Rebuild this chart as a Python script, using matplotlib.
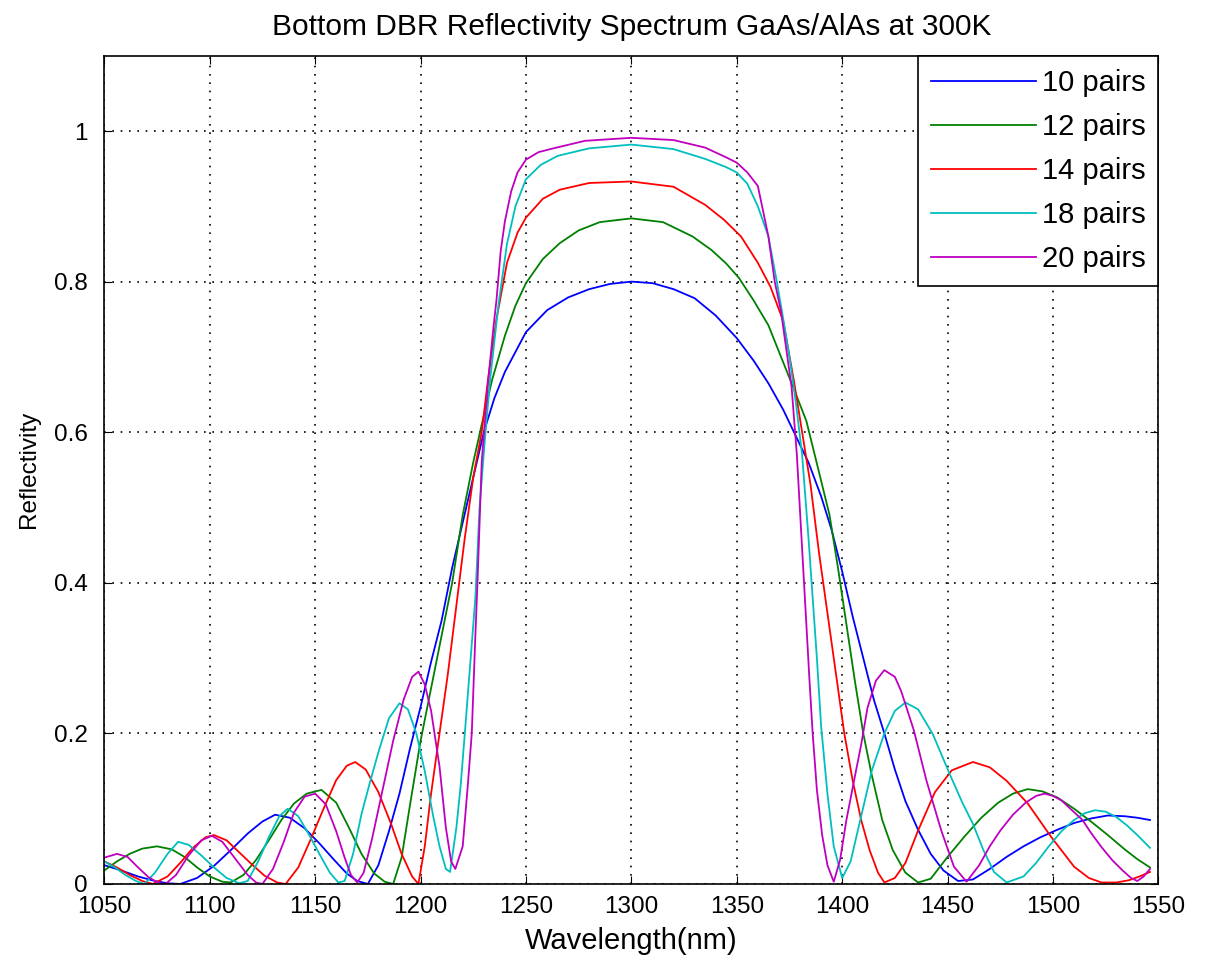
import matplotlib
matplotlib.use("Agg")
import matplotlib.pyplot as plt

plt.rcParams['font.family'] = ['Liberation Sans', 'DejaVu Sans']

# values (wavelength in nm, reflectivity)
wl_10 = [1050, 1058, 1066, 1074, 1080, 1086, 1094, 1102, 1110, 1118, 1125, 1131, 1138, 1145,
         1152, 1159, 1165, 1170, 1175, 1180, 1185, 1190, 1195, 1200, 1205, 1210, 1215, 1220,
         1225, 1230, 1235, 1240, 1250, 1260, 1270, 1280, 1290, 1300, 1310, 1320, 1330, 1340,
         1350, 1358, 1365, 1372, 1378, 1384, 1390, 1395, 1400, 1405, 1410, 1415, 1420, 1425,
         1430, 1436, 1442, 1448, 1455, 1462, 1470, 1478, 1486, 1494, 1502, 1510, 1518, 1526,
         1534, 1540, 1546]
r_10 = [0.025, 0.018, 0.010, 0.004, 0.001, 0.000, 0.008, 0.024, 0.045, 0.067, 0.083, 0.092,
        0.088, 0.074, 0.054, 0.032, 0.014, 0.004, 0.000, 0.025, 0.070, 0.120, 0.180, 0.235,
        0.295, 0.350, 0.420, 0.480, 0.540, 0.600, 0.645, 0.680, 0.733, 0.762, 0.779, 0.790,
        0.797, 0.800, 0.798, 0.790, 0.778, 0.755, 0.725, 0.695, 0.665, 0.630, 0.595, 0.560,
        0.515, 0.470, 0.415, 0.355, 0.300, 0.245, 0.200, 0.152, 0.110, 0.072, 0.040, 0.018,
        0.004, 0.006, 0.020, 0.036, 0.050, 0.062, 0.072, 0.081, 0.087, 0.091, 0.090, 0.088,
        0.085]

wl_12 = [1050, 1056, 1062, 1068, 1075, 1082, 1088, 1094, 1100, 1106, 1110, 1116, 1122, 1128,
         1134, 1140, 1146, 1153, 1160, 1166, 1172, 1178, 1183, 1187, 1191, 1195, 1200, 1205,
         1210, 1215, 1220, 1225, 1229, 1234, 1240, 1245, 1250, 1258, 1266, 1275, 1285, 1300,
         1315, 1329, 1338, 1345, 1351, 1358, 1365, 1371, 1377, 1383, 1389, 1394, 1398, 1402,
         1406, 1410, 1414, 1419, 1424, 1430, 1436, 1442, 1450, 1458, 1466, 1474, 1481, 1488,
         1495, 1502, 1510, 1518, 1526, 1534, 1540, 1546]
r_12 = [0.018, 0.030, 0.040, 0.047, 0.050, 0.046, 0.036, 0.022, 0.010, 0.003, 0.002, 0.012,
        0.032, 0.058, 0.085, 0.107, 0.120, 0.125, 0.108, 0.075, 0.040, 0.014, 0.003, 0.000,
        0.035, 0.105, 0.190, 0.260, 0.330, 0.400, 0.490, 0.560, 0.610, 0.670, 0.728, 0.768,
        0.798, 0.830, 0.851, 0.868, 0.879, 0.884, 0.879, 0.860, 0.842, 0.824, 0.805, 0.775,
        0.742, 0.700, 0.658, 0.615, 0.547, 0.490, 0.420, 0.345, 0.270, 0.200, 0.145, 0.085,
        0.045, 0.015, 0.002, 0.007, 0.036, 0.063, 0.088, 0.108, 0.120, 0.126, 0.123, 0.115,
        0.100, 0.083, 0.065, 0.046, 0.033, 0.022]

wl_14 = [1050, 1056, 1062, 1068, 1073, 1080, 1086, 1092, 1098, 1102, 1108, 1114, 1120, 1126,
         1132, 1136, 1142, 1148, 1154, 1160, 1165, 1169, 1174, 1180, 1186, 1191, 1196, 1199,
         1202, 1205, 1209, 1213, 1217, 1221, 1225, 1229, 1232, 1236, 1241, 1246, 1250, 1258,
         1266, 1280, 1300, 1320, 1335, 1344, 1352, 1360, 1366, 1372, 1377, 1381, 1385, 1389,
         1393, 1397, 1401, 1405, 1409, 1413, 1417, 1420, 1425, 1430, 1436, 1444, 1452, 1462,
         1470, 1478, 1488, 1499, 1510, 1517, 1523, 1530, 1536, 1541, 1546]
r_14 = [0.030, 0.022, 0.012, 0.004, 0.000, 0.010, 0.028, 0.048, 0.062, 0.065, 0.058, 0.042,
        0.026, 0.011, 0.002, 0.000, 0.022, 0.060, 0.100, 0.138, 0.157, 0.162, 0.152, 0.122,
        0.080, 0.040, 0.010, 0.000, 0.050, 0.120, 0.200, 0.280, 0.370, 0.460, 0.540, 0.600,
        0.670, 0.750, 0.825, 0.865, 0.885, 0.910, 0.922, 0.931, 0.933, 0.926, 0.902, 0.882,
        0.860, 0.825, 0.793, 0.748, 0.670, 0.600, 0.530, 0.440, 0.360, 0.280, 0.200, 0.137,
        0.085, 0.045, 0.015, 0.002, 0.008, 0.028, 0.071, 0.122, 0.151, 0.162, 0.155, 0.137,
        0.107, 0.063, 0.023, 0.008, 0.002, 0.002, 0.005, 0.010, 0.016]

wl_18 = [1050, 1055, 1060, 1065, 1069, 1074, 1080, 1085, 1090, 1096, 1102, 1108, 1114, 1118,
         1123, 1128, 1133, 1137, 1142, 1147, 1152, 1157, 1161, 1164, 1168, 1172, 1176, 1180,
         1185, 1190, 1194, 1198, 1202, 1206, 1209, 1212, 1214, 1217, 1219, 1221, 1223.5, 1226,
         1228, 1230.5, 1233, 1237, 1241, 1245, 1250, 1257, 1265, 1280, 1300, 1320, 1335, 1345,
         1350, 1355, 1360, 1365, 1369, 1372, 1375, 1378, 1381, 1384, 1386, 1388, 1390, 1393,
         1396, 1400, 1404, 1409, 1414, 1420, 1425, 1430, 1436, 1443, 1451, 1457, 1462, 1467,
         1472, 1478, 1486, 1492, 1498, 1504, 1510, 1515, 1520, 1525, 1530, 1535, 1540, 1546]
r_18 = [0.030, 0.022, 0.012, 0.004, 0.000, 0.015, 0.040, 0.056, 0.052, 0.038, 0.022, 0.008,
        0.001, 0.004, 0.030, 0.062, 0.090, 0.100, 0.090, 0.066, 0.040, 0.015, 0.002, 0.004,
        0.040, 0.093, 0.135, 0.175, 0.220, 0.240, 0.232, 0.200, 0.150, 0.090, 0.050, 0.020,
        0.016, 0.075, 0.130, 0.200, 0.290, 0.380, 0.500, 0.590, 0.670, 0.770, 0.850, 0.900,
        0.936, 0.955, 0.967, 0.977, 0.982, 0.976, 0.963, 0.952, 0.945, 0.930, 0.900, 0.860,
        0.800, 0.751, 0.700, 0.640, 0.570, 0.460, 0.380, 0.300, 0.210, 0.120, 0.050, 0.008,
        0.030, 0.090, 0.150, 0.200, 0.230, 0.241, 0.232, 0.199, 0.146, 0.108, 0.080, 0.045,
        0.016, 0.002, 0.010, 0.028, 0.050, 0.070, 0.085, 0.094, 0.098, 0.096, 0.089, 0.078,
        0.065, 0.048]

wl_20 = [1050, 1056, 1061, 1066, 1071, 1076, 1079, 1084, 1090, 1096, 1101, 1106, 1112, 1118,
         1122, 1125, 1130, 1135, 1140, 1145, 1150, 1155, 1160, 1164, 1167, 1170, 1173, 1177,
         1182, 1187, 1192, 1196, 1199, 1202, 1205, 1209, 1212, 1214.5, 1216.5, 1220, 1222.5,
         1224.3, 1226, 1227, 1229, 1232, 1234.6, 1236, 1238, 1240, 1243, 1246, 1250, 1256,
         1263, 1278, 1300, 1320, 1335, 1345, 1350, 1355, 1360, 1365, 1368, 1371, 1374, 1376,
         1378.5, 1380.5, 1382.5, 1384.5, 1386, 1388, 1390.5, 1393, 1396, 1399, 1402, 1405.6,
         1409, 1412, 1416, 1420, 1425, 1428, 1434, 1440, 1447, 1453, 1459, 1465, 1470, 1475,
         1481, 1487, 1492, 1496, 1500, 1504, 1509, 1514, 1518, 1523, 1528, 1533, 1537, 1540,
         1543, 1546]
r_20 = [0.035, 0.040, 0.036, 0.022, 0.009, 0.001, 0.000, 0.012, 0.038, 0.058, 0.064, 0.056,
        0.034, 0.012, 0.002, 0.000, 0.020, 0.055, 0.095, 0.116, 0.120, 0.106, 0.070, 0.035,
        0.012, 0.002, 0.015, 0.060, 0.125, 0.190, 0.245, 0.275, 0.282, 0.265, 0.230, 0.156,
        0.075, 0.030, 0.020, 0.050, 0.134, 0.200, 0.330, 0.400, 0.560, 0.666, 0.740, 0.775,
        0.840, 0.880, 0.920, 0.945, 0.962, 0.972, 0.977, 0.987, 0.991, 0.988, 0.978, 0.965,
        0.958, 0.945, 0.927, 0.860, 0.800, 0.760, 0.700, 0.660, 0.570, 0.470, 0.370, 0.270,
        0.200, 0.125, 0.065, 0.025, 0.003, 0.032, 0.085, 0.137, 0.185, 0.234, 0.270, 0.284,
        0.275, 0.256, 0.204, 0.137, 0.071, 0.023, 0.003, 0.025, 0.050, 0.071, 0.092, 0.108,
        0.117, 0.120, 0.117, 0.111, 0.098, 0.085, 0.068, 0.049, 0.032, 0.018, 0.008, 0.004,
        0.010, 0.020]

labels = ['10 pairs', '12 pairs', '14 pairs', '18 pairs', '20 pairs']
colors = ['#0000ff', '#008000', '#ff0000', '#00bfbf', '#bf00bf']

fig = plt.figure(figsize=(12.13, 9.71), dpi=100)
ax = fig.add_axes([0.086, 0.0896, 0.869, 0.853])

series = [(wl_10, r_10), (wl_12, r_12), (wl_14, r_14), (wl_18, r_18), (wl_20, r_20)]
for (x, y), lab, c in zip(series, labels, colors):
    ax.plot(x, y, color=c, lw=1.3, label=lab)

ax.set_xlim(1050, 1550)
ax.set_ylim(0, 1.1)
ax.set_xticks(range(1050, 1551, 50))
ax.set_yticks([0, 0.2, 0.4, 0.6, 0.8, 1.0])
ax.set_yticklabels(['0', '0.2', '0.4', '0.6', '0.8', '1'])
ax.grid(True, color='black', linestyle=(0, (1, 4)), lw=1.2)
ax.tick_params(direction='in', top=True, right=True, length=6, labelsize=17.5)
ax.tick_params(axis='x', pad=9)
ax.tick_params(axis='y', pad=12)
for s in ax.spines.values():
    s.set_linewidth(1.2)

ax.set_xlabel('Wavelength(nm)', fontsize=21, labelpad=6)
ax.set_ylabel('Reflectivity', fontsize=17.5, labelpad=10)
ax.set_title('Bottom DBR Reflectivity Spectrum GaAs/AlAs at 300K', fontsize=21.5, pad=15)

leg = ax.legend(loc='upper right', fontsize=21, handlelength=3.6, handletextpad=0.2,
                labelspacing=0.55, borderaxespad=0, fancybox=False, framealpha=1,
                borderpad=0.45)
leg.get_frame().set_edgecolor('black')
leg.get_frame().set_linewidth(1.2)

fig.savefig('out.png', dpi=100)
